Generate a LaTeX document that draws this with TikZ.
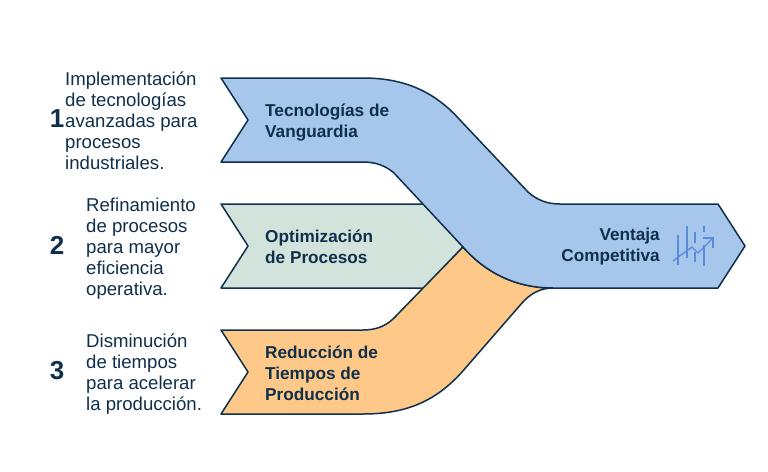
\documentclass[tikz,border=0pt]{standalone}
\usepackage{fontspec}
\setmainfont{Liberation Sans}
\usepackage{xcolor}
\definecolor{ink}{HTML}{0F2F4A}
\definecolor{bluefill}{HTML}{A6C6EC}
\definecolor{greenfill}{HTML}{D2E3DC}
\definecolor{orangefill}{HTML}{FDC888}
\definecolor{iconblue}{HTML}{5B8AD8}

\begin{document}
\begin{tikzpicture}[
  x=1pt,
  y=-1pt,
  band/.style={draw=ink,line width=1.5pt,line join=round},
  title/.style={text=ink,align=left,anchor=west,inner sep=0pt,font=\fontsize{17.2}{21}\selectfont\bfseries},
  desc/.style={text=ink,align=left,anchor=west,inner sep=0pt,font=\fontsize{18.6}{21}\selectfont},
  num/.style={text=ink,anchor=center,inner sep=0pt,font=\fontsize{26}{26}\selectfont\bfseries},
  iconline/.style={draw=iconblue,line width=1.3pt},
]
\useasboundingbox (0,0) rectangle (768,471);

% bands
\path [band,fill=greenfill] (221,204) -- (430,204) -- (463,247) -- (424,288) -- (221,288) -- (248,246) -- cycle;
\path [band,fill=orangefill] (221,330) -- (363,330) .. controls (376,330) and (386,326) .. (394,318)
  -- (463,247) .. controls (485,272) and (515,288) .. (553,288)
  .. controls (540,288) and (530,294) .. (522,303)
  -- (462,372) .. controls (435,402) and (405,414) .. (363,414)
  -- (221,414) -- (248,372) -- cycle;
\path [band,fill=bluefill] (221,78) -- (363,78) .. controls (405,78) and (435,92) .. (460,120)
  -- (528,192) .. controls (537,200) and (547,204) .. (560,204)
  -- (718,204) -- (745,246) -- (718,288) -- (553,288)
  .. controls (515,288) and (485,272) .. (463,247)
  -- (394,173) .. controls (386,166) and (376,162) .. (363,162)
  -- (221,162) -- (248,120) -- cycle;

% titles
\node [title] (tecnologias) at (265,123) {Tecnologías de\\Vanguardia};
\node [title] (optimizacion) at (265,247) {Optimización\\de Procesos};
\node [title] (reduccion) at (265,373) {Reducción de\\Tiempos de\\Producción};
\node [title,align=right,anchor=east] (ventaja) at (660,247) {Ventaja\\Competitiva};

% left column
\node [num] (uno) at (57,119) {1};
\node [num] (dos) at (57,245) {2};
\node [num] (tres) at (57,371) {3};
\node [desc] (textouno) at (65,121) {Implementación\\de tecnologías\\avanzadas para\\procesos\\industriales.};
\node [desc] (textodos) at (86,249) {Refinamiento\\de procesos\\para mayor\\eficiencia\\operativa.};
\node [desc] (textotres) at (86,374) {Disminución\\de tiempos\\para acelerar\\la producción.};

% icon
\draw [iconline] (678,235) -- (678,265);
\draw [iconline] (687,226) -- (687,258);
\draw [iconline] (695,232) -- (695,243);
\draw [iconline] (695,252) -- (695,262);
\draw [iconline] (704,226) -- (704,232);
\draw [iconline] (704,245) -- (704,266);
\draw [iconline] (673,261) -- (692,247) -- (698,253) -- (713,238);
\draw [iconline] (703,238) -- (713,238) -- (713,248);

\end{tikzpicture}
\end{document}
